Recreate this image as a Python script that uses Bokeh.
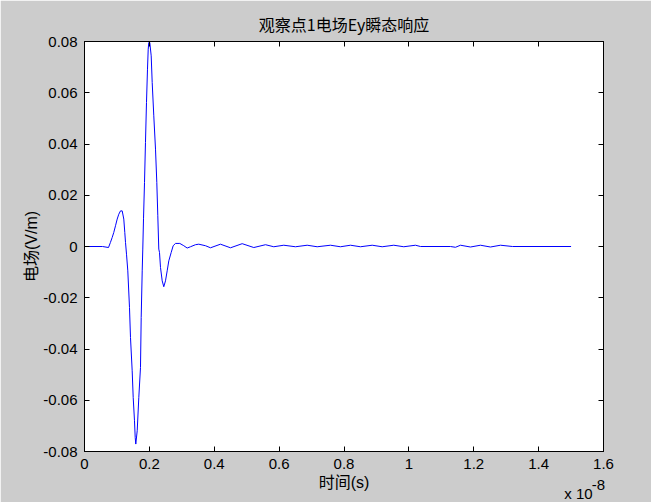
from bokeh.plotting import figure
from bokeh.models import Range1d, FixedTicker, LinearAxis, Label
from bokeh.embed import file_html
from bokeh.resources import INLINE

# time in units of 1e-8 s, field Ey in V/m
t = [0.000, 0.0555, 0.074, 0.080, 0.0853, 0.0903, 0.0956, 0.1008, 0.1057, 0.1110,
     0.1162, 0.1211, 0.1242, 0.1264, 0.1295, 0.1335, 0.1387, 0.1418, 0.1470, 0.1501,
     0.1541, 0.1563, 0.1581, 0.1625, 0.1674, 0.1726, 0.1748, 0.1779, 0.1797, 0.1819,
     0.1850, 0.1880, 0.1911, 0.1942, 0.1964, 0.1982, 0.2013, 0.2056, 0.2087, 0.2136,
     0.2189, 0.2229, 0.2260, 0.2290, 0.2312, 0.2343, 0.2395, 0.2444, 0.2497, 0.2549,
     0.2599, 0.2673, 0.2734, 0.2805, 0.2938, 0.3061, 0.3165, 0.3267, 0.3421, 0.3523,
     0.3730, 0.3884, 0.4192, 0.4501, 0.4861, 0.5219, 0.5580, 0.5835, 0.6144, 0.6504,
     0.6865, 0.7173, 0.7583, 0.7891, 0.8200, 0.8508, 0.8869, 0.9177, 0.9535, 0.9843,
     1.0203, 1.0358, 1.1282, 1.1437, 1.1591, 1.1899, 1.2207, 1.2515, 1.2824, 1.3194,
     1.5000]
ey = [0.0, 0.0, -0.0004, 0.0016, 0.0035, 0.0055, 0.0081, 0.0107, 0.0126, 0.0139,
      0.0139, 0.0107, 0.0055, 0.0016, -0.0030, -0.0095, -0.0238, -0.0355, -0.0485, -0.0589,
      -0.0680, -0.0745, -0.0771, -0.0719, -0.0589, -0.0472, -0.0277, -0.0095, -0.0010, 0.0108,
      0.0250, 0.0406, 0.0562, 0.0692, 0.0770, 0.0796, 0.0796, 0.0744, 0.0640, 0.0510,
      0.0380, 0.0250, 0.0120, -0.0010, -0.0023, -0.0082, -0.0134, -0.0157, -0.0134, -0.0095,
      -0.0056, -0.0023, 0.0003, 0.0012, 0.0012, 0.0003, -0.0006, -0.0001, 0.0007, 0.0009,
      0.0003, -0.0005, 0.0009, -0.0005, 0.0011, -0.0004, 0.0007, -0.0001, 0.0005, -0.0001,
      0.0005, -0.0001, 0.0005, -0.0001, 0.0005, -0.0001, 0.0005, -0.0001, 0.0005, -0.0001,
      0.0005, 0.0, 0.0, -0.0003, 0.0005, -0.0002, 0.0005, -0.0002, 0.0005, 0.0,
      0.0]

x_ticks = [0, 0.2, 0.4, 0.6, 0.8, 1.0, 1.2, 1.4, 1.6]
x_tick_labels = ["0", "0.2", "0.4", "0.6", "0.8", "1", "1.2", "1.4", "1.6"]
y_ticks = [-0.08, -0.06, -0.04, -0.02, 0, 0.02, 0.04, 0.06, 0.08]
y_tick_labels = ["-0.08", "-0.06", "-0.04", "-0.02", "0", "0.02", "0.04", "0.06", "0.08"]

title_text = "观察点1电场Ey瞬态响应"
x_label = "时间(s)"
y_label = "电场(V/m)"
exp_base = "x 10"
exp_power = "-8"

LAT = "Liberation Sans, Noto Sans CJK SC"
CJK = "Noto Sans CJK SC"

p = figure(width=651, height=502, output_backend="svg", toolbar_location=None,
           x_range=Range1d(0, 1.6), y_range=Range1d(-0.08, 0.08),
           min_border_left=84, min_border_right=48, min_border_top=41,
           min_border_bottom=51)
p.border_fill_color = "#cccccc"
p.background_fill_color = "white"
p.outline_line_color = "black"
p.outline_line_width = 1
p.grid.visible = False

p.line(t, ey, line_color="#0000ff", line_width=1)

xa = p.xaxis[0]
ya = p.yaxis[0]
xa.ticker = FixedTicker(ticks=x_ticks)
ya.ticker = FixedTicker(ticks=y_ticks)
xa.major_label_overrides = {v: s for v, s in zip(x_ticks, x_tick_labels)}
ya.major_label_overrides = {v: s for v, s in zip(y_ticks, y_tick_labels)}
xa.axis_label = x_label
ya.axis_label = y_label
for ax in (xa, ya):
    ax.axis_line_color = "black"
    ax.major_tick_line_color = "black"
    ax.major_tick_in = 5
    ax.major_tick_out = 0
    ax.minor_tick_line_color = None
    ax.major_label_text_font = LAT
    ax.major_label_text_font_size = "15px"
    ax.major_label_text_color = "black"
    ax.axis_label_text_font = LAT
    ax.axis_label_text_font_size = "16px"
    ax.axis_label_text_font_style = "normal"
    ax.axis_label_text_color = "black"
xa.major_label_standoff = 7
ya.major_label_standoff = 7
xa.axis_label_standoff = 2
ya.axis_label_standoff = 0

# box ticks on top and right (no labels)
top = LinearAxis(ticker=FixedTicker(ticks=x_ticks))
right = LinearAxis(ticker=FixedTicker(ticks=y_ticks))
top.major_label_overrides = {v: "" for v in x_ticks}
right.major_label_overrides = {v: "" for v in y_ticks}
for ax in (top, right):
    ax.axis_line_color = "black"
    ax.major_tick_line_color = "black"
    ax.major_tick_in = 5
    ax.major_tick_out = 0
    ax.minor_tick_line_color = None
    ax.major_label_standoff = 0
p.add_layout(top, "above")
p.add_layout(right, "right")

# chart title, centred above the axes box
p.add_layout(Label(x=0.8, y=0.0870, text=title_text, text_font=CJK,
                   text_font_size="16px", text_align="center",
                   text_baseline="middle", text_color="black"), "above")

# exponent note "x 10^-8" below the right end of the x axis
p.add_layout(Label(x=1.523, y=-0.0964, text=exp_base, text_font=LAT,
                   text_font_size="15px", text_align="center",
                   text_baseline="middle", text_color="black"), "right")
p.add_layout(Label(x=1.584, y=-0.0929, text=exp_power, text_font=LAT,
                   text_font_size="15px", text_align="center",
                   text_baseline="middle", text_color="black"), "right")

open("out.html", "w").write(file_html(p, INLINE))
